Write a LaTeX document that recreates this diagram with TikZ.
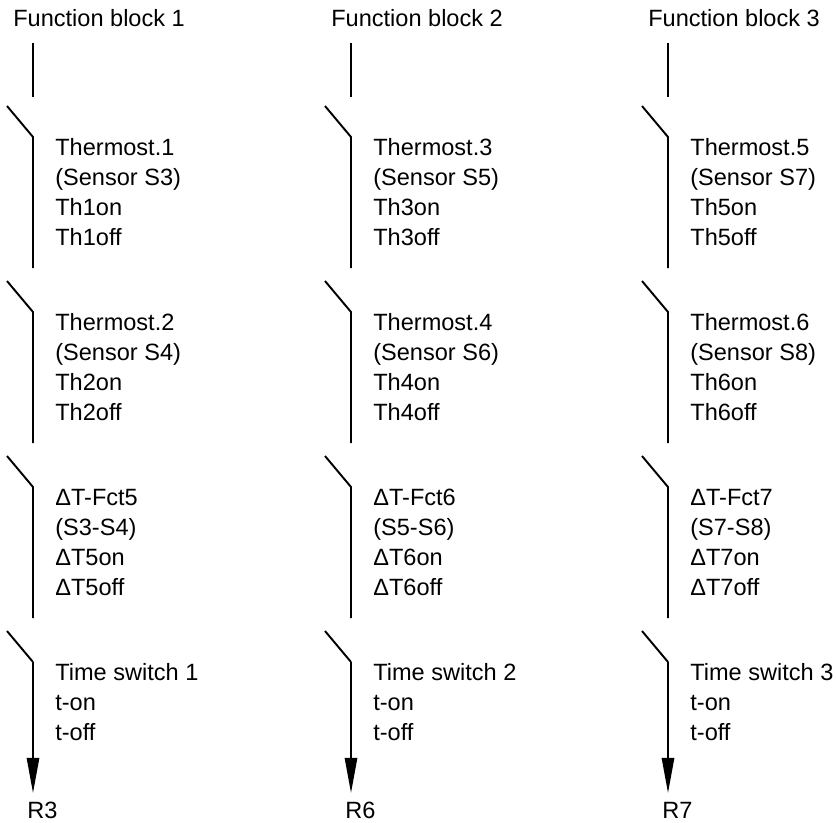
\documentclass[tikz,border=0pt]{standalone}
\usepackage{fontspec}
\setmainfont{Liberation Sans}
\usetikzlibrary{arrows.meta}

\begin{document}
\begin{tikzpicture}[
  x=0.02cm, y=-0.02cm,
  font=\fontsize{13.4}{17.07}\selectfont,
  wire/.style={line width=1.1pt},
  relay/.style={line width=1.1pt, -{Triangle[length=20pt, width=7pt]}},
  hd/.style={anchor=base west, inner sep=0pt},
  % base of a multi-line node sits on its last line
  txt/.style={anchor=base west, align=left, inner sep=0pt}
]
  \useasboundingbox (0,0) rectangle (837,822);

  % switch chain, one column per function block
  \foreach \x/\c in {33/1, 351/2, 668/3} {
    \coordinate (a\c) at (\x,43);
    \coordinate (b\c) at (\x,97);
    \draw[wire] (a\c) -- (b\c);
    \foreach \k/\y in {1/106, 2/281, 3/456, 4/631} {
      \coordinate (p\c\k) at (\x-26,\y);
      \coordinate (q\c\k) at (\x,\y+31);
      \coordinate (e\c\k) at (\x,\y+162);
    }
    \foreach \k in {1,2,3}
      \draw[wire] (p\c\k) -- (q\c\k) -- (e\c\k);
    \draw[wire] (p\c4) -- (q\c4);
    \draw[relay] (q\c4) -- (e\c4);
  }

  % block titles
  \node[hd] (fb1) at (13,26) {Function block 1};
  \node[hd] (fb2) at (331,26) {Function block 2};
  \node[hd] (fb3) at (648,26) {Function block 3};

  % block 1
  \node[txt] (th1) at ([shift={(22,108)}]q11) {Thermost.1\\(Sensor S3)\\Th1on\\Th1off};
  \node[txt] (th2) at ([shift={(22,108)}]q12) {Thermost.2\\(Sensor S4)\\Th2on\\Th2off};
  \node[txt] (dt5) at ([shift={(22,108)}]q13) {ΔT-Fct5\\(S3-S4)\\ΔT5on\\ΔT5off};
  \node[txt] (ts1) at ([shift={(22,78)}]q14) {Time switch 1\\t-on\\t-off};

  % block 2
  \node[txt] (th3) at ([shift={(22,108)}]q21) {Thermost.3\\(Sensor S5)\\Th3on\\Th3off};
  \node[txt] (th4) at ([shift={(22,108)}]q22) {Thermost.4\\(Sensor S6)\\Th4on\\Th4off};
  \node[txt] (dt6) at ([shift={(22,108)}]q23) {ΔT-Fct6\\(S5-S6)\\ΔT6on\\ΔT6off};
  \node[txt] (ts2) at ([shift={(22,78)}]q24) {Time switch 2\\t-on\\t-off};

  % block 3
  \node[txt] (th5) at ([shift={(22,108)}]q31) {Thermost.5\\(Sensor S7)\\Th5on\\Th5off};
  \node[txt] (th6) at ([shift={(22,108)}]q32) {Thermost.6\\(Sensor S8)\\Th6on\\Th6off};
  \node[txt] (dt7) at ([shift={(22,108)}]q33) {ΔT-Fct7\\(S7-S8)\\ΔT7on\\ΔT7off};
  \node[txt] (ts3) at ([shift={(22,78)}]q34) {Time switch 3\\t-on\\t-off};

  % relay outputs
  \node[hd] (r3) at ([shift={(-6,25)}]e14) {R3};
  \node[hd] (r6) at ([shift={(-6,25)}]e24) {R6};
  \node[hd] (r7) at ([shift={(-6,25)}]e34) {R7};
\end{tikzpicture}
\end{document}
